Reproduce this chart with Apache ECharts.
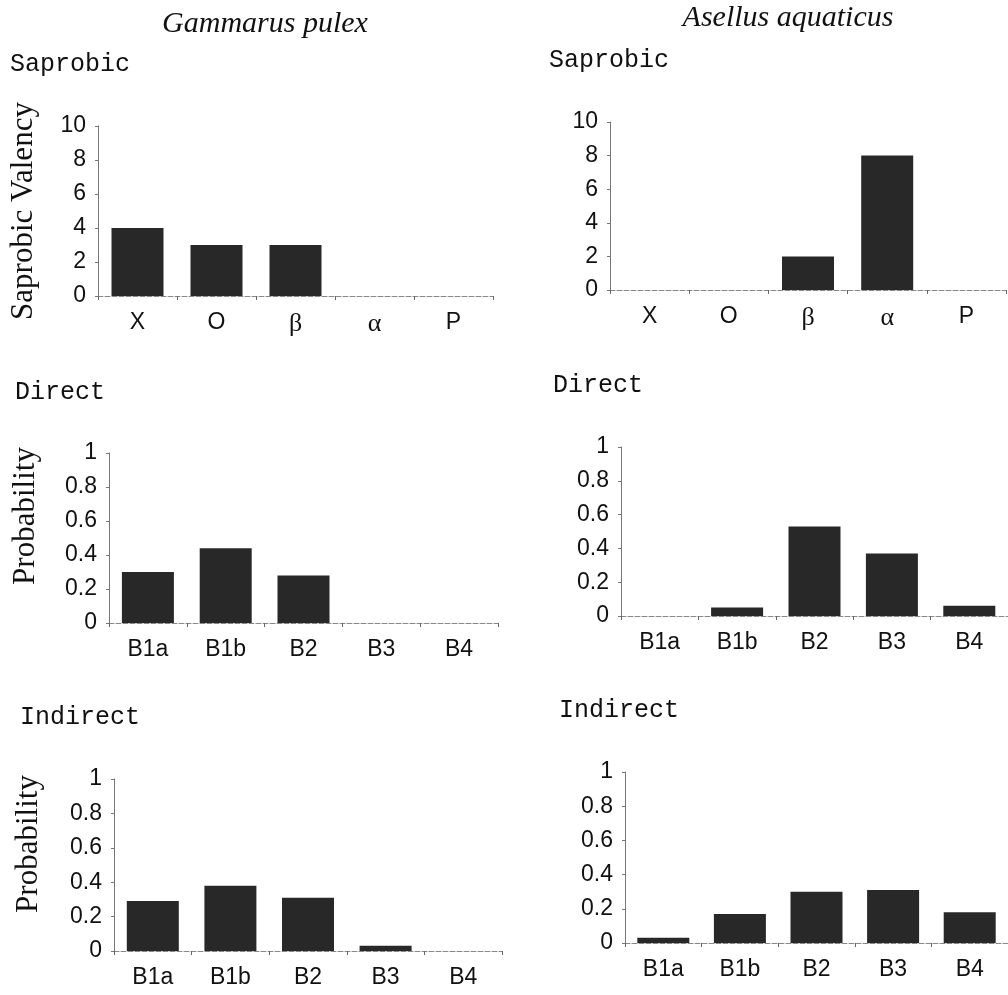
<!DOCTYPE html>
<html><head><meta charset="utf-8">
<script src="https://cdn.jsdelivr.net/npm/echarts@6/dist/echarts.min.js"></script>
<style>html,body{margin:0;padding:0;background:#fff}#c{width:1008px;height:995px}</style>
</head><body><div id="c"></div>
<script>
// ---- data ----
const saprobicCats = ['X', 'O', 'β', 'α', 'P'];
const bioCats = ['B1a', 'B1b', 'B2', 'B3', 'B4'];
const gammarusSaprobic = [4, 3, 3, 0, 0];
const asellusSaprobic = [0, 0, 2, 8, 0];
const gammarusDirect = [0.30, 0.44, 0.28, 0, 0];
const asellusDirect = [0, 0.05, 0.53, 0.37, 0.06];
const gammarusIndirect = [0.29, 0.38, 0.31, 0.03, 0];
const asellusIndirect = [0.03, 0.17, 0.30, 0.31, 0.18];
const saprobicScale = { min: 0, max: 10, interval: 2 };
const probScale = { min: 0, max: 1, interval: 0.2 };
const speciesTitles = ['Gammarus pulex', 'Asellus aquaticus'];
const panelLabels = ['Saprobic', 'Direct', 'Indirect'];
const yNames = ['Saprobic Valency', 'Probability', 'Probability'];

// ---- layout ----
const panels = [
  { grid: { left: 98, top: 126, width: 395, height: 170 }, cats: saprobicCats, data: gammarusSaprobic, scale: saprobicScale },
  { grid: { left: 610, top: 122, width: 396, height: 168 }, cats: saprobicCats, data: asellusSaprobic, scale: saprobicScale },
  { grid: { left: 109, top: 453, width: 389, height: 170 }, cats: bioCats, data: gammarusDirect, scale: probScale },
  { grid: { left: 621, top: 447, width: 389, height: 169 }, cats: bioCats, data: asellusDirect, scale: probScale },
  { grid: { left: 114, top: 779, width: 388, height: 172 }, cats: bioCats, data: gammarusIndirect, scale: probScale },
  { grid: { left: 625, top: 772, width: 390, height: 171 }, cats: bioCats, data: asellusIndirect, scale: probScale }
];

const sans = "'Liberation Sans', Arial, sans-serif";
const serif = "'Liberation Serif', 'Times New Roman', serif";
const mono = "'Liberation Mono', 'Courier New', monospace";

const grids = [], xAxes = [], yAxes = [], series = [];
panels.forEach((p, i) => {
  grids.push(Object.assign({ containLabel: false }, p.grid));
  xAxes.push({
    type: 'category', gridIndex: i, data: p.cats,
    axisLine: { lineStyle: { color: '#888', width: 1, type: [5, 2] } },
    axisTick: { show: true, length: 4, lineStyle: { color: '#666' } },
    axisLabel: {
      fontFamily: sans, fontSize: 23, color: '#111', margin: 15,
      formatter: v => /[αβ]/.test(v) ? '{g|' + v + '}' : v,
      rich: { g: { fontFamily: serif, fontSize: 26, color: '#111', padding: [0, 0, 6, 0] } }
    },
    splitLine: { show: false }
  });
  yAxes.push({
    type: 'value', gridIndex: i, min: p.scale.min, max: p.scale.max, interval: p.scale.interval,
    axisLine: { show: true, lineStyle: { color: '#777', width: 1 } },
    axisTick: { show: true, length: 3, lineStyle: { color: '#777' } },
    axisLabel: { fontFamily: sans, fontSize: 23, color: '#111', margin: 12 },
    splitLine: { show: false }
  });
  series.push({
    type: 'bar', xAxisIndex: i, yAxisIndex: i, data: p.data,
    barWidth: 52, itemStyle: { color: '#282828' }, silent: true
  });
});

const graphics = [];
// species titles
[[265, 24], [788, 18]].forEach((pos, k) => {
  graphics.push({ type: 'text', x: pos[0], y: pos[1], style: {
    text: speciesTitles[k], font: 'italic 30px ' + serif, fill: '#111',
    textAlign: 'center', textVerticalAlign: 'middle' } });
});
// panel labels (monospace)
const labelPos = [[10, 64], [549, 60], [15, 392], [553, 385], [20, 717], [559, 710]];
labelPos.forEach((pos, k) => {
  graphics.push({ type: 'text', x: pos[0], y: pos[1], style: {
    text: panelLabels[Math.floor(k / 2)], font: '25px ' + mono, fill: '#111',
    textAlign: 'left', textVerticalAlign: 'middle' } });
});
// y-axis names on left column
const yNamePos = [[24, 211], [26, 516], [29, 844]];
yNamePos.forEach((pos, k) => {
  graphics.push({ type: 'text', x: pos[0], y: pos[1], rotation: Math.PI / 2, style: {
    text: yNames[k], font: '31px ' + serif, fill: '#111',
    textAlign: 'center', textVerticalAlign: 'middle' } });
});

const chart = echarts.init(document.getElementById('c'), null, { renderer: 'canvas' });
chart.setOption({
  animation: false,
  backgroundColor: '#fff',
  grid: grids, xAxis: xAxes, yAxis: yAxes, series: series,
  graphic: graphics
});
</script></body></html>
